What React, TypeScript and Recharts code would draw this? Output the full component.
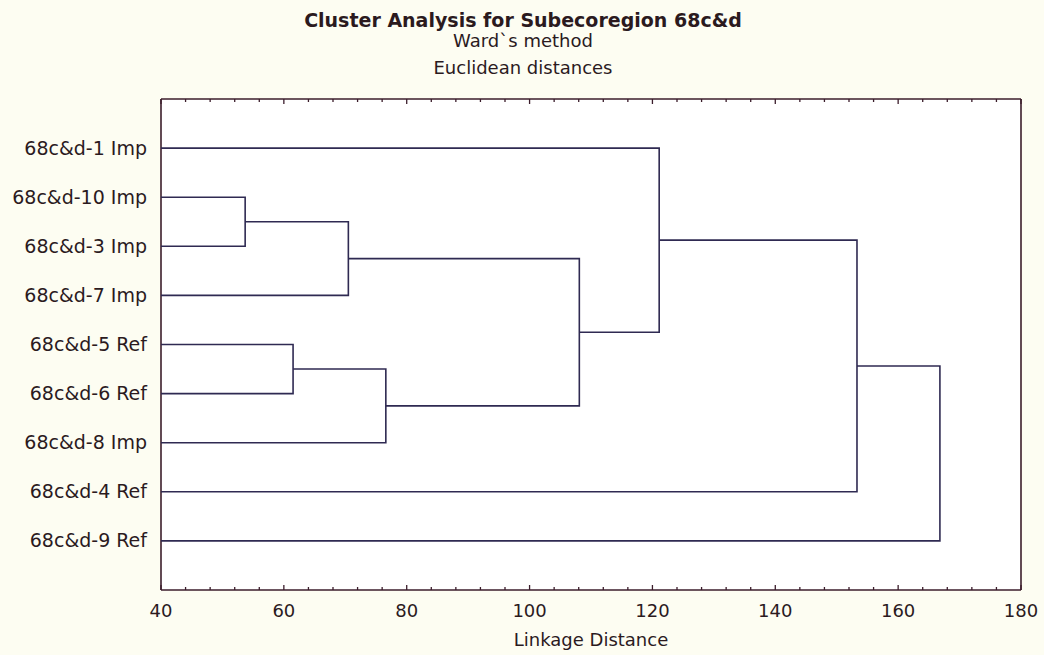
import React from 'react';
import { ComposedChart, XAxis, YAxis, Scatter, CartesianGrid } from 'recharts';

// Leaves in dendrogram order (top to bottom)
const leafLabels = [
  '68c&d-1 Imp',
  '68c&d-10 Imp',
  '68c&d-3 Imp',
  '68c&d-7 Imp',
  '68c&d-5 Ref',
  '68c&d-6 Ref',
  '68c&d-8 Imp',
  '68c&d-4 Ref',
  '68c&d-9 Ref',
];

// Ward linkage steps: node ids < 9 are leaves, node 9 + k is the cluster formed at step k
const mergeLeft = [1, 4, 9, 10, 11, 0, 14, 15];
const mergeRight = [2, 5, 3, 6, 12, 13, 7, 8];
const mergeDistance = [53.7, 61.5, 70.5, 76.6, 108.1, 121.1, 153.3, 166.8];

// Axis settings
const distanceMin = 40;
const distanceMax = 180;
const labelledTicks = [40, 60, 80, 100, 120, 140, 160, 180];
const minorStep = 4;

const FONT = '"DejaVu Sans", "Liberation Sans", Arial, sans-serif';
const TEXT = '#2b1a1e';
const FRAME = '#3b1d2b';
const LINK = '#2f2a52';
const PAGE_BG = '#fdfdf2';

const leafCount = leafLabels.length;
const rowTicks = leafLabels.map((_, i) => i + 1);
const minorTicks: number[] = [];
for (let v = distanceMin; v <= distanceMax; v += minorStep) minorTicks.push(v);

// Position (row, height) of every node, then one bracket per merge
type Pt = { x: number; y: number };
const nodeRow: number[] = leafLabels.map((_, i) => i + 1);
const nodeHeight: number[] = leafLabels.map(() => distanceMin);
const brackets: Pt[][] = mergeDistance.map((d, k) => {
  const a = mergeLeft[k];
  const b = mergeRight[k];
  const pts = [
    { x: nodeHeight[a], y: nodeRow[a] },
    { x: d, y: nodeRow[a] },
    { x: d, y: nodeRow[b] },
    { x: nodeHeight[b], y: nodeRow[b] },
  ];
  nodeRow[leafCount + k] = (nodeRow[a] + nodeRow[b]) / 2;
  nodeHeight[leafCount + k] = d;
  return pts;
});

const BottomTick = (props: any) => {
  const { x, y, payload } = props;
  const v = payload.value as number;
  const major = labelledTicks.includes(v);
  return (
    <g>
      <line x1={x} x2={x} y1={y} y2={y - (major ? 5 : 3)} stroke={FRAME} strokeWidth={1.3} />
      {major && (
        <text x={x} y={y + 27} textAnchor="middle" fontFamily={FONT} fontSize={18} fill={TEXT}>
          {v}
        </text>
      )}
    </g>
  );
};

const TopTick = (props: any) => {
  const { x, y, payload } = props;
  const major = labelledTicks.includes(payload.value);
  return <line x1={x} x2={x} y1={y} y2={y + (major ? 5 : 3)} stroke={FRAME} strokeWidth={1.3} />;
};

const LeftTick = (props: any) => {
  const { x, y, payload } = props;
  return (
    <text x={x - 14} y={y + 6.5} textAnchor="end" fontFamily={FONT} fontSize={19} fill={TEXT}>
      {leafLabels[payload.value - 1]}
    </text>
  );
};

const RightTick = (props: any) => {
  const { x, y } = props;
  return <line x1={x} x2={x - 4} y1={y} y2={y} stroke={FRAME} strokeWidth={1.3} />;
};

const NoDot = () => <g />;

export default function App() {
  return (
    <div style={{ position: 'absolute', left: 0, top: 0, width: 1044, height: 655, background: PAGE_BG }}>
      <ComposedChart
        width={1044}
        height={655}
        margin={{ top: 98, right: 22, bottom: 0, left: 0 }}
      >
        <CartesianGrid xAxisId="bottom" yAxisId="left" horizontal={false} vertical={false} fill="#ffffff" stroke="none" />
        <XAxis
          xAxisId="bottom"
          type="number"
          dataKey="x"
          domain={[distanceMin, distanceMax]}
          ticks={minorTicks}
          interval={0}
          allowDataOverflow
          height={65}
          tickSize={0}
          tickMargin={0}
          tickLine={false}
          tick={BottomTick}
          axisLine={{ stroke: FRAME, strokeWidth: 1.6 }}
          label={{ value: 'Linkage Distance', position: 'insideBottom', offset: 9, fill: TEXT, fontSize: 18, fontFamily: FONT }}
        />
        <XAxis
          xAxisId="top"
          orientation="top"
          type="number"
          dataKey="x"
          domain={[distanceMin, distanceMax]}
          ticks={minorTicks}
          interval={0}
          allowDataOverflow
          height={1}
          tickSize={0}
          tickMargin={0}
          tickLine={false}
          tick={TopTick}
          axisLine={{ stroke: FRAME, strokeWidth: 1.6 }}
        />
        <YAxis
          yAxisId="left"
          type="number"
          dataKey="y"
          reversed
          domain={[0, leafCount + 1]}
          ticks={rowTicks}
          interval={0}
          width={161}
          tickSize={0}
          tickMargin={0}
          tickLine={false}
          tick={LeftTick}
          axisLine={{ stroke: FRAME, strokeWidth: 1.6 }}
        />
        <YAxis
          yAxisId="right"
          orientation="right"
          type="number"
          dataKey="y"
          reversed
          domain={[0, leafCount + 1]}
          ticks={rowTicks}
          interval={0}
          width={1}
          tickSize={0}
          tickMargin={0}
          tickLine={false}
          tick={RightTick}
          axisLine={{ stroke: FRAME, strokeWidth: 1.6 }}
        />
        {brackets.map((pts, k) => (
          <Scatter
            key={k}
            xAxisId="bottom"
            yAxisId="left"
            data={pts}
            line={{ stroke: LINK, strokeWidth: 1.6 }}
            shape={NoDot}
            legendType="none"
            isAnimationActive={false}
          />
        ))}
      </ComposedChart>
      <svg
        width={1044}
        height={98}
        style={{ position: 'absolute', left: 0, top: 0, pointerEvents: 'none' }}
      >
        <text x={523} y={27} textAnchor="middle" fontFamily={FONT} fontSize={19} fontWeight="bold" fill={TEXT}>
          Cluster Analysis for Subecoregion 68c&amp;d
        </text>
        <text x={523} y={47} textAnchor="middle" fontFamily={FONT} fontSize={18} fill={TEXT}>
          Ward`s method
        </text>
        <text x={523} y={74} textAnchor="middle" fontFamily={FONT} fontSize={18} fill={TEXT}>
          Euclidean distances
        </text>
      </svg>
    </div>
  );
}
